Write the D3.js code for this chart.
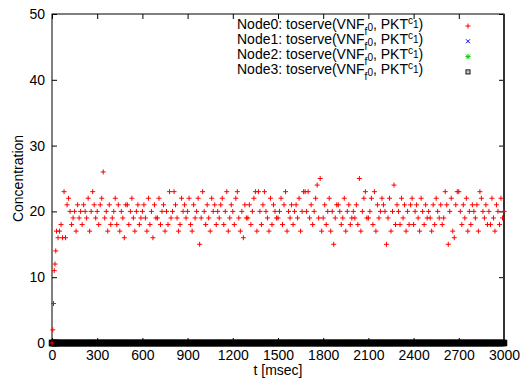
<!DOCTYPE html>
<html>
<head>
<meta charset="utf-8">
<script src="https://cdn.jsdelivr.net/npm/d3@7"></script>
<style>
  body { margin: 0; background: #fff; }
  svg { display: block; font-family: "Liberation Sans", Arial, sans-serif; }
</style>
</head>
<body>
<svg id="chart" width="523" height="385"></svg>
<script>
// sample times (msec): finer at the start, then every 10 msec
var times = [0, 5, 10, 15, 20, 25].concat(d3.range(30, 3001, 10));

// Node0 concentration (one line = 100 msec)
var node0Values = [
  0,2,6,11,12,14,
  17,16,17,18,16,23,16,
  21,22,20,18,19,20,17,21,19,20,
  18,21,20,19,22,17,20,23,21,19,
  20,18,21,22,26,19,20,17,21,18,
  19,20,22,18,21,17,20,19,16,21,
  21,18,20,22,19,17,20,21,18,19,
  20,21,19,17,22,18,20,16,21,19,
  19,22,18,20,21,17,20,18,23,19,
  20,23,21,19,17,18,22,20,21,19,
  20,22,18,17,21,19,20,22,15,19,
  23,20,18,21,19,17,22,20,21,18,
  20,19,21,22,18,20,23,17,19,21,
  20,18,22,23,19,17,20,16,21,19,
  19,21,18,20,22,23,17,23,20,18,
  21,23,20,19,17,22,18,21,20,19,
  19,20,22,18,21,23,17,20,19,21,
  18,20,21,19,22,17,20,23,23,20,
  23,19,21,18,20,22,24,19,25,17,
  19,21,18,20,22,17,20,15,19,21,
  21,20,18,19,22,17,20,21,18,19,
  20,19,21,18,25,17,20,22,23,19,
  19,20,22,18,23,17,21,19,20,22,
  21,20,15,19,22,17,20,24,18,21,
  20,18,22,19,21,17,20,18,21,22,
  18,20,21,19,17,22,20,18,21,19,
  20,19,17,21,18,22,20,19,21,18,
  19,23,21,15,20,22,17,16,21,23,
  23,20,18,21,19,22,17,20,18,21,
  20,19,21,17,23,22,20,19,21,18,
  20,18,22,19,17,21,20,18,22,19,
  20
];
// Node1..Node3 stay at zero over the whole run
var node1Values = new Array(times.length).fill(0);
var node2Values = new Array(times.length).fill(0);
var node3Values = new Array(times.length).fill(0);

var xTicks = [0, 300, 600, 900, 1200, 1500, 1800, 2100, 2400, 2700, 3000];
var yTicks = [0, 10, 20, 30, 40, 50];
var seriesNames = ["Node0", "Node1", "Node2", "Node3"];
var seriesColors = ["#ff0000", "#0000ff", "#00cc00", "#000000"];

var margin = {top: 14, right: 19, bottom: 42, left: 52};
var W = 523, H = 385;
var w = W - margin.left - margin.right;
var h = H - margin.top - margin.bottom;

var svg = d3.select("#chart");
var g = svg.append("g")
    .attr("transform", "translate(" + margin.left + "," + margin.top + ")");

var x = d3.scaleLinear().domain([0, 3000]).range([0, w]);
var y = d3.scaleLinear().domain([0, 50]).range([h, 0]);

// gnuplot style: ticks point inwards, mirrored on top and right
var bottomAxis = g.append("g")
    .attr("transform", "translate(0," + h + ")")
    .call(d3.axisBottom(x).tickValues(xTicks).tickSize(-5).tickPadding(7).tickFormat(d3.format("d")));
var leftAxis = g.append("g")
    .call(d3.axisLeft(y).tickValues(yTicks).tickSize(-5).tickPadding(7).tickFormat(d3.format("d")));
g.append("g")
    .call(d3.axisTop(x).tickValues(xTicks).tickSize(-5).tickFormat(""));
g.append("g")
    .attr("transform", "translate(" + w + ",0)")
    .call(d3.axisRight(y).tickValues(yTicks).tickSize(-5).tickFormat(""));

g.selectAll(".domain").remove();
g.selectAll(".tick line").attr("stroke", "#000").attr("stroke-width", 1);
bottomAxis.selectAll("text").style("font-size", "14px").attr("fill", "#000");
leftAxis.selectAll("text").style("font-size", "14px").attr("fill", "#000");

g.append("rect")
    .attr("x", 0).attr("y", 0)
    .attr("width", w).attr("height", h)
    .attr("fill", "none")
    .attr("stroke", "#000")
    .attr("stroke-width", 1);
// right edge looks heavier in the original
g.append("line")
    .attr("x1", w).attr("x2", w)
    .attr("y1", 0).attr("y2", h)
    .attr("stroke", "#333")
    .attr("stroke-width", 2);

// axis titles
svg.append("text")
    .attr("transform", "translate(23," + (margin.top + h / 2) + ") rotate(-90)")
    .attr("text-anchor", "middle")
    .style("font-size", "14px")
    .text("Concentration");
svg.append("text")
    .attr("x", margin.left + w / 2)
    .attr("y", 375)
    .attr("text-anchor", "middle")
    .style("font-size", "14px")
    .text("t [msec]");

// point shapes
var plusPath = "M-2.5,0H2.5M0,-2.5V2.5";
var crossPath = "M-2,-2L2,2M-2,2L2,-2";
var starPath = "M-2.5,0H2.5M0,-2.5V2.5M-2,-2L2,2M-2,2L2,-2";

var pts = g.append("g");

pts.selectAll("path.n1")
    .data(node1Values)
    .enter()
    .append("path")
    .attr("class", "n1")
    .attr("d", crossPath)
    .attr("transform", function(d, i) { return "translate(" + x(times[i]) + "," + y(d) + ")"; })
    .attr("stroke", seriesColors[1])
    .attr("fill", "none");

pts.selectAll("path.n2")
    .data(node2Values)
    .enter()
    .append("path")
    .attr("class", "n2")
    .attr("d", starPath)
    .attr("transform", function(d, i) { return "translate(" + x(times[i]) + "," + y(d) + ")"; })
    .attr("stroke", seriesColors[2])
    .attr("fill", "none");

// boxes packed this close merge into a solid band
pts.selectAll("rect.n3")
    .data(node3Values)
    .enter()
    .append("rect")
    .attr("class", "n3")
    .attr("x", function(d, i) { return x(times[i]) - 2.5; })
    .attr("y", function(d) { return y(d) - 2.5; })
    .attr("width", 5)
    .attr("height", 5)
    .attr("stroke", seriesColors[3])
    .attr("stroke-width", 1.5)
    .attr("fill", seriesColors[3]);

pts.selectAll("path.n0")
    .data(node0Values)
    .enter()
    .append("path")
    .attr("class", "n0")
    .attr("d", plusPath)
    .attr("transform", function(d, i) { return "translate(" + x(times[i]) + "," + y(d) + ")"; })
    .attr("stroke", seriesColors[0])
    .attr("fill", "none");

// legend, with gnuplot's slightly odd sub/superscript placement
var legend = svg.append("g");
seriesNames.forEach(function(name, i) {
    var by = 29.3 + i * 15;
    var t = legend.append("text")
        .attr("x", 237)
        .attr("y", by)
        .style("font-size", "14px")
        .attr("fill", "#000");
    t.append("tspan").text(name + ": toserve(VNF");
    t.append("tspan").attr("dy", 5.7).style("font-size", "10px").text("f");
    t.append("tspan").attr("dy", -4.3).style("font-size", "10px").text("0");
    t.append("tspan").attr("dy", -1.4).text(", PKT");
    t.append("tspan").attr("dy", -5.3).style("font-size", "10px").text("c");
    t.append("tspan").attr("dy", 4.3).style("font-size", "10px").text("1");
    t.append("tspan").attr("dy", 1).text(")");

    var my = 26 + i * 15.3;
    if (i == 3) {
        legend.append("rect")
            .attr("x", 466).attr("y", my - 2)
            .attr("width", 4).attr("height", 4)
            .attr("stroke", seriesColors[3]).attr("fill", "none");
        legend.append("rect")
            .attr("x", 467.5).attr("y", my - 0.5)
            .attr("width", 1).attr("height", 1)
            .attr("fill", seriesColors[3]);
    } else {
        legend.append("path")
            .attr("d", [plusPath, crossPath, starPath][i])
            .attr("transform", "translate(468," + my + ")")
            .attr("stroke", seriesColors[i])
            .attr("fill", "none");
    }
});
</script>
</body>
</html>
